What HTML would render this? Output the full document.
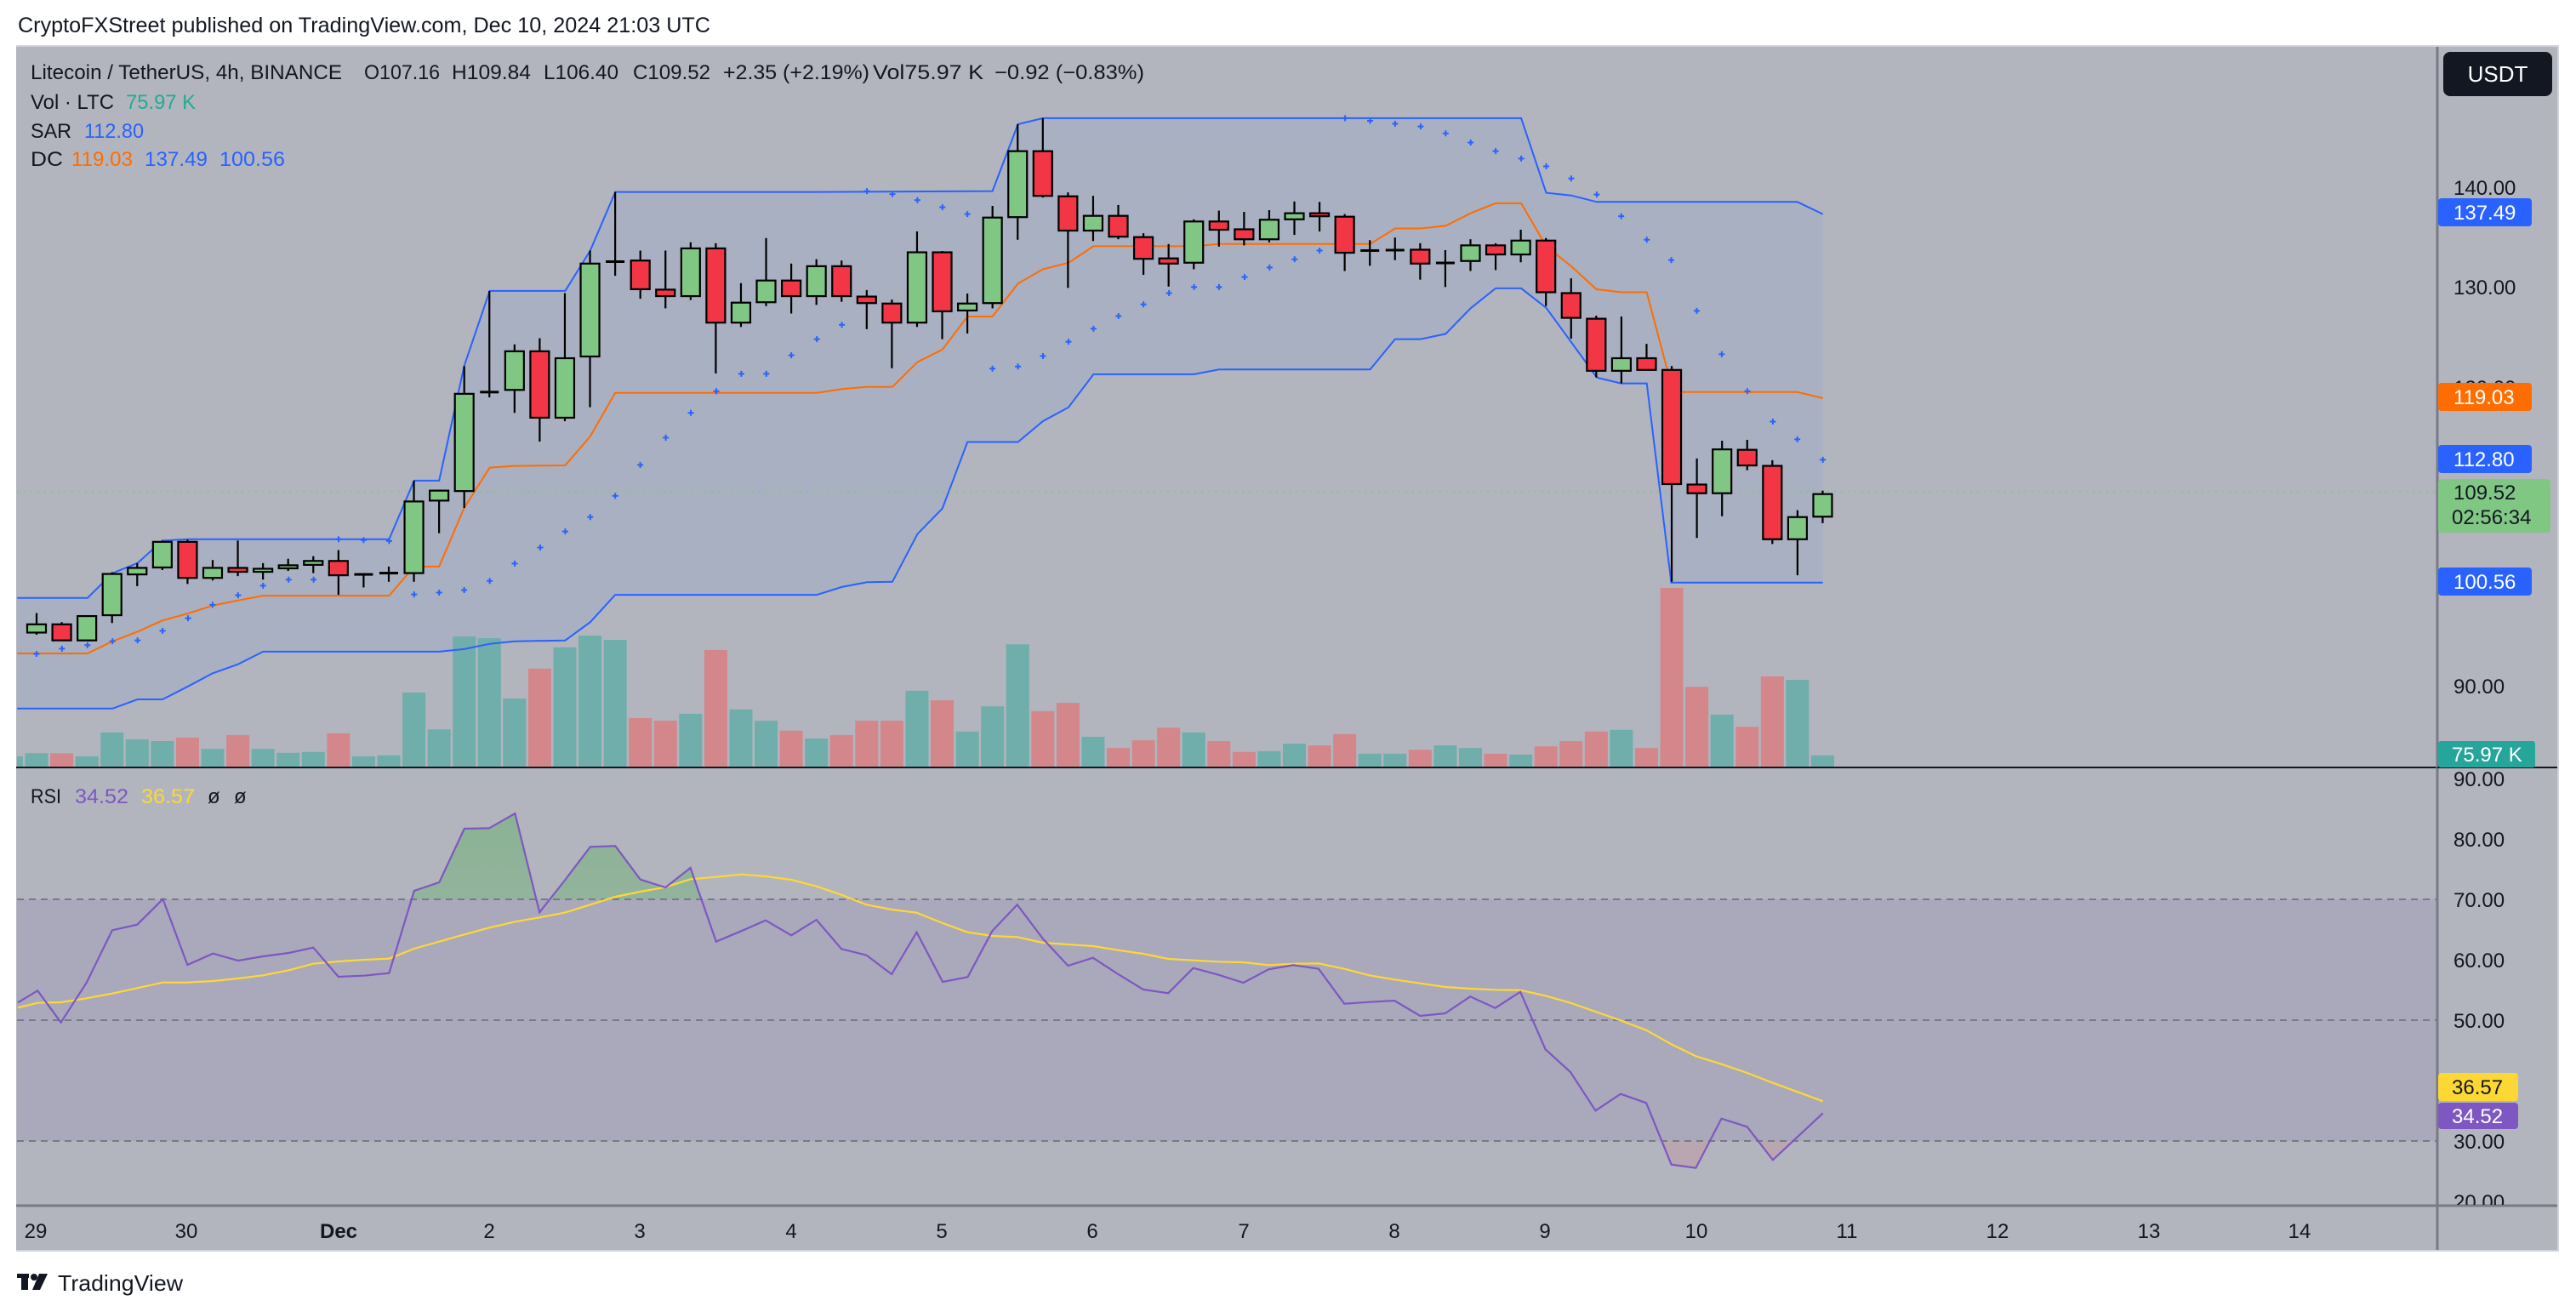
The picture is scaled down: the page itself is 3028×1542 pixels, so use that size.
<!DOCTYPE html>
<html><head><meta charset="utf-8">
<style>
html,body{margin:0;padding:0;background:#fff;}
svg{display:block;font-family:"Liberation Sans",sans-serif;}
</style></head>
<body>
<svg id="s" width="3028" height="1542" viewBox="0 0 3028 1542" xmlns="http://www.w3.org/2000/svg">
<rect x="0" y="0" width="3028" height="1542" fill="#ffffff"/>
<rect x="19" y="53" width="2989" height="1418" fill="#b2b5be"/>
<defs>
<clipPath id="pc"><rect x="20" y="54" width="2845" height="848"/></clipPath>
<clipPath id="rc"><rect x="20" y="904" width="2845" height="513"/></clipPath>
<clipPath id="ob"><rect x="20" y="904" width="2845" height="153"/></clipPath>
<clipPath id="os"><rect x="20" y="1341" width="2845" height="76"/></clipPath>
<linearGradient id="gg" x1="0" y1="0" x2="0" y2="1"><stop offset="0" stop-color="#4caf50" stop-opacity="0.4"/><stop offset="1" stop-color="#4caf50" stop-opacity="0"/></linearGradient>
<linearGradient id="rg" x1="0" y1="0" x2="0" y2="1"><stop offset="0" stop-color="#f23645" stop-opacity="0"/><stop offset="1" stop-color="#f23645" stop-opacity="0.12"/></linearGradient>
</defs>
<rect x="20" y="1057" width="2845" height="284" fill="#a9a9bb"/>
<g id="price" clip-path="url(#pc)"></g>
<g id="rsi" clip-path="url(#rc)"></g>
<line x1="19" y1="902" x2="2865" y2="902" stroke="#131722" stroke-width="2"/>
<line x1="2865" y1="53" x2="2865" y2="1471" stroke="#787b86" stroke-width="3"/>
<line x1="19" y1="1417" x2="3008" y2="1417" stroke="#787b86" stroke-width="3"/>
<line x1="2865" y1="902" x2="3008" y2="902" stroke="#131722" stroke-width="2"/>
<line x1="3007" y1="53" x2="3007" y2="1471" stroke="#d1d4dc" stroke-width="2"/>
<line x1="19" y1="1470" x2="3008" y2="1470" stroke="#d1d4dc" stroke-width="2"/>
<line x1="19" y1="54" x2="3008" y2="54" stroke="#d1d4dc" stroke-width="2"/>

<text x="21" y="38" font-size="25" fill="#131722" textLength="814" lengthAdjust="spacingAndGlyphs">CryptoFXStreet published on TradingView.com, Dec 10, 2024 21:03 UTC</text>

<g font-size="24" fill="#131722">
<text x="36" y="93" textLength="366" lengthAdjust="spacingAndGlyphs">Litecoin / TetherUS, 4h, BINANCE</text>
<text x="428" y="93" textLength="89" lengthAdjust="spacingAndGlyphs">O107.16</text>
<text x="531" y="93" textLength="93" lengthAdjust="spacingAndGlyphs">H109.84</text>
<text x="639" y="93" textLength="88" lengthAdjust="spacingAndGlyphs">L106.40</text>
<text x="744" y="93" textLength="91" lengthAdjust="spacingAndGlyphs">C109.52</text>
<text x="850" y="93" textLength="172" lengthAdjust="spacingAndGlyphs">+2.35 (+2.19%)</text>
<text x="1026" y="93" textLength="130" lengthAdjust="spacingAndGlyphs">Vol75.97 K</text>
<text x="1169" y="93" textLength="176" lengthAdjust="spacingAndGlyphs">−0.92 (−0.83%)</text>
<text x="36" y="128" textLength="98" lengthAdjust="spacingAndGlyphs">Vol · LTC</text>
<text x="148" y="128" fill="#22ab94" textLength="82" lengthAdjust="spacingAndGlyphs">75.97 K</text>
<text x="36" y="162" textLength="48" lengthAdjust="spacingAndGlyphs">SAR</text>
<text x="99" y="162" fill="#2962ff" textLength="70" lengthAdjust="spacingAndGlyphs">112.80</text>
<text x="36" y="195" textLength="38" lengthAdjust="spacingAndGlyphs">DC</text>
<text x="84" y="195" fill="#ff6d00" textLength="72" lengthAdjust="spacingAndGlyphs">119.03</text>
<text x="170" y="195" fill="#2962ff" textLength="74" lengthAdjust="spacingAndGlyphs">137.49</text>
<text x="258" y="195" fill="#2962ff" textLength="77" lengthAdjust="spacingAndGlyphs">100.56</text>
<text x="36" y="944" textLength="36" lengthAdjust="spacingAndGlyphs">RSI</text>
<text x="88" y="944" fill="#7e57c2" textLength="63" lengthAdjust="spacingAndGlyphs">34.52</text>
<text x="166" y="944" fill="#fdd835" textLength="63" lengthAdjust="spacingAndGlyphs">36.57</text>
<text x="244" y="944">ø</text>
<text x="275" y="944">ø</text>
</g>

<g font-size="24" fill="#131722">
<text x="2884" y="229">140.00</text>
<text x="2884" y="346">130.00</text>
<text x="2884" y="464">120.00</text>
<text x="2884" y="815">90.00</text>
<text x="2884" y="924">90.00</text>
<text x="2884" y="995">80.00</text>
<text x="2884" y="1066">70.00</text>
<text x="2884" y="1137">60.00</text>
<text x="2884" y="1208">50.00</text>
<text x="2884" y="1350">30.00</text>
</g>
<g clip-path="url(#rtop)"><text x="2884" y="1421" font-size="24" fill="#131722">20.00</text></g>
<defs><clipPath id="rtop"><rect x="2867" y="1380" width="140" height="36"/></clipPath></defs>
<g font-size="24">
<rect x="2866" y="233" width="110" height="33" rx="4" fill="#2962ff"/><text x="2884" y="258" fill="#fff">137.49</text>
<rect x="2866" y="450" width="110" height="33" rx="4" fill="#ff6d00"/><text x="2884" y="475" fill="#fff">119.03</text>
<rect x="2866" y="523" width="110" height="33" rx="4" fill="#2962ff"/><text x="2884" y="548" fill="#fff">112.80</text>
<rect x="2866" y="563" width="132" height="63" rx="4" fill="#81c784"/><text x="2884" y="587" fill="#131722">109.52</text><text x="2882" y="616" fill="#131722">02:56:34</text>
<rect x="2866" y="667" width="110" height="33" rx="4" fill="#2962ff"/><text x="2884" y="692" fill="#fff">100.56</text>
<rect x="2866" y="871" width="114" height="31" rx="3" fill="#26a69a"/><text x="2882" y="895" fill="#fff">75.97 K</text>
<rect x="2866" y="1261" width="94" height="33" rx="4" fill="#fdd835"/><text x="2882" y="1286" fill="#131722">36.57</text>
<rect x="2866" y="1296" width="94" height="31" rx="4" fill="#7e57c2"/><text x="2882" y="1320" fill="#fff">34.52</text>
</g>
<rect x="2872" y="61" width="128" height="52" rx="8" fill="#131722"/>
<text x="2936" y="96" font-size="26" fill="#fff" text-anchor="middle">USDT</text>

<g font-size="24" fill="#131722" text-anchor="middle">
<text x="42" y="1455">29</text><text x="219" y="1455">30</text>
<text x="398" y="1455" font-weight="bold">Dec</text>
<text x="575" y="1455">2</text><text x="752" y="1455">3</text><text x="930" y="1455">4</text>
<text x="1107" y="1455">5</text><text x="1284" y="1455">6</text><text x="1462" y="1455">7</text>
<text x="1639" y="1455">8</text><text x="1816" y="1455">9</text><text x="1994" y="1455">10</text>
<text x="2171" y="1455">11</text><text x="2348" y="1455">12</text><text x="2526" y="1455">13</text>
<text x="2703" y="1455">14</text>
</g>
<g fill="#131722">
<rect x="20" y="1497" width="14" height="5"/><rect x="25" y="1497" width="8" height="19"/>
<circle cx="40" cy="1501" r="4"/>
<polygon points="46,1497 56,1497 47,1516 38,1516"/>
<text x="68" y="1517" font-size="26" textLength="147" lengthAdjust="spacingAndGlyphs">TradingView</text>
</g>
</svg>
<script>
const NS="http://www.w3.org/2000/svg";
function el(p,t,a){const e=document.createElementNS(NS,t);for(const k in a)e.setAttribute(k,a[k]);p.appendChild(e);return e;}
const P=document.getElementById('price'),R=document.getElementById('rsi');
const X=i=>43+i*29.57, Y=z=>120+z/1.96;
function pts(arr,ox,fx,fy){return arr.map(p=>[ox+p[0]/fx,fy(p[1])]);}
const Z=(arr,ox)=>pts(arr,ox,1.633,Y);
const up=[].concat(Z([[33,1142],[168,1142],[216,1085],[264,1062],[312,1010],[361,1007],[747,1007],[795,872],[843,872],[891,608],[940,435],[1085,435],[1133,342],[1181,207],[1568,207]],0),
 Z([[370,205],[419,51],[467,37],[1385,37],[1433,209],[1481,215],[1530,230]],940),Z([[0,230],[380,230],[429,258]],1880));
const lo=[].concat(Z([[33,1397],[216,1397],[264,1376],[312,1376],[361,1346],[408,1316],[457,1295],[505,1266],[843,1266],[891,1260],[940,1248],[988,1242],[1085,1240],[1133,1198],[1181,1135],[1568,1135]],0),
 Z([[33,1135],[81,1117],[129,1106],[178,1105],[226,995],[274,936],[322,783],[419,783],[467,735],[516,703],[564,627],[757,627],[805,616],[1095,616],[1143,546],[1192,546],[1240,534],[1288,475],[1336,429],[1385,429],[1433,474],[1481,553],[1530,634]],940),
 Z([[0,636],[42,648],[91,648],[138,1107],[429,1107]],1880));
const mid=[].concat(Z([[33,1270],[168,1270],[216,1242],[264,1220],[312,1194],[361,1178],[408,1160],[457,1148],[505,1137],[747,1137],[795,1070],[843,1070],[891,935],[940,842],[988,838],[1085,837],[1133,770],[1181,670],[1568,670]],0),
 Z([[33,670],[81,661],[129,656],[178,656],[226,599],[274,570],[322,494],[370,494],[419,418],[467,385],[516,370],[564,332],[757,332],[805,327],[1095,327],[1143,291],[1192,291],[1240,285],[1288,256],[1336,233],[1385,233],[1433,332],[1481,378],[1530,432]],940),
 Z([[0,432],[42,438],[91,438],[130,615],[157,668],[380,668],[429,682]],1880));
const S=a=>a.map(p=>p[0].toFixed(1)+','+p[1].toFixed(1)).join(' ');
el(P,'polygon',{points:S(up.concat(lo.slice().reverse())),fill:'#2962ff','fill-opacity':'0.06'});
const V=[[-1,1507,'g'],[0,1500,'g'],[1,1500,'r'],[2,1507,'g'],[3,1452,'g'],[4,1468,'g'],[5,1472,'g'],[6,1464,'r'],[7,1490,'g'],[8,1458,'r'],[9,1490,'g'],[10,1499,'g'],[11,1497,'g'],[12,1454,'r'],[13,1507,'g'],[14,1505,'g'],[15,1360,'g'],[16,1445,'g'],[17,1231,'g'],[18,1235,'g'],[19,1374,'g'],[20,1305,'r'],[21,1256,'g'],[22,1229,'g'],[23,1239,'g'],[24,1419,'r'],[25,1425,'r'],[26,1409,'g'],[27,1262,'r'],[28,1399,'g'],[29,1425,'g'],[30,1448,'r'],[31,1466,'g'],[32,1458,'r'],[33,1425,'r'],[34,1425,'r'],[35,1356,'g'],[36,1378,'r'],[37,1450,'g'],[38,1392,'g'],[39,1249,'g'],[40,1403,'r'],[41,1384,'r'],[42,1462,'g'],[43,1488,'r'],[44,1470,'r'],[45,1441,'r'],[46,1452,'g'],[47,1472,'r'],[48,1497,'r'],[49,1495,'g'],[50,1478,'g'],[51,1482,'r'],[52,1456,'r'],[53,1501,'g'],[54,1501,'g'],[55,1492,'r'],[56,1482,'g'],[57,1488,'g'],[58,1501,'r'],[59,1503,'g'],[60,1484,'r'],[61,1472,'r'],[62,1450,'r'],[63,1446,'g'],[64,1488,'r'],[65,1119,'r'],[66,1347,'r'],[67,1411,'g'],[68,1439,'r'],[69,1323,'r'],[70,1331,'g'],[71,1505,'g']];
V.forEach(v=>{const y=Y(v[1]);el(P,'rect',{x:X(v[0])-13.5,y:y,width:27,height:902-y,fill:v[2]=='g'?'#6faeab':'#d3878a'});});
el(P,'polyline',{points:S(up),fill:'none',stroke:'#2962ff','stroke-width':2});
el(P,'polyline',{points:S(lo),fill:'none',stroke:'#2962ff','stroke-width':2});
el(P,'polyline',{points:S(mid),fill:'none',stroke:'#ff6d00','stroke-width':2});
el(P,'line',{x1:20,y1:577.5,x2:2865,y2:577.5,stroke:'#81c784','stroke-width':2,'stroke-dasharray':'2 6'});
const sar=[].concat(Z([[70,1271],[119,1259],[168,1251],[216,1242],[264,1240],[312,1218],[361,1189],[408,1158],[457,1136],[505,1114],[554,1100],[602,1100],[650,1007],[698,1009],[747,1011],[795,1134],[843,1130],[891,1124],[940,1103],[988,1063],[1037,1026],[1085,989],[1133,956],[1181,907],[1229,836],[1278,773],[1326,716],[1375,666],[1423,626],[1471,626],[1519,583]],0),
 Z([[33,546],[81,513],[129,205],[178,212],[226,226],[274,242],[322,258],[370,614],[419,609],[467,585],[516,552],[564,522],[612,493],[660,466],[709,440],[757,426],[805,426],[854,403],[902,381],[950,362],[998,342],[1047,37],[1095,43],[1143,50],[1192,56],[1240,72],[1288,93],[1336,113],[1385,130],[1433,148],[1481,176],[1530,213]],940),
 Z([[42,263],[91,317],[138,364],[187,481],[235,581],[284,666],[333,736],[380,777],[429,824]],1880));
sar.forEach(p=>{el(P,'path',{d:`M${p[0]-3.5},${p[1]}h7M${p[0]},${p[1]-3.5}v7`,stroke:'#2962ff','stroke-width':2});});
const C=[['g',1203,1222,1177,1227],['r',1203,1240,1198,1240],['g',1184,1240,1184,1240],['g',1087,1182,1083,1200],['g',1073,1088,1062,1115],['g',1013,1072,1010,1078],['r',1013,1096,1008,1110],['g',1073,1096,1055,1102],['r',1073,1082,1010,1092],['g',1075,1082,1062,1100],['g',1067,1074,1052,1080],['g',1057,1066,1046,1085],['r',1057,1090,1032,1135],['d',1088,1088,1085,1118],['d',1085,1085,1070,1105],['g',920,1085,872,1105],['g',895,918,893,993],['g',672,896,608,935],['d',666,670,435,680],['g',574,663,558,716],['r',574,727,544,782],['g',590,727,440,735],['g',372,586,342,703],['d',365,370,207,400],['r',365,431,342,453],['r',432,447,342,475],['g',337,447,323,456],['r',337,508,325,625],['g',462,508,417,518],['g',411,461,313,470],['r',411,447,372,487],['g',378,447,362,467],['r',378,447,365,460],['r',448,463,433,523],['r',464,508,455,613],['g',346,508,298,518],['r',346,482,343,546],['g',464,480,441,533],['g',266,463,239,475],['g',113,265,51,317],['r',113,216,37,220],['r',217,296,208,428],['g',262,296,216,320],['r',262,310,237,316],['r',311,361,302,398],['r',360,372,327,425],['g',275,370,270,385],['r',275,294,250,333],['r',293,316,253,330],['g',271,316,249,323],['g',256,270,229,306],['r',256,263,230,298],['r',264,347,258,389],['d',342,342,318,377],['d',338,344,312,364],['r',340,372,325,409],['d',369,372,341,426],['g',330,366,316,389],['r',330,351,325,387],['g',319,351,294,369],['r',319,438,313,470],['r',440,497,406,545],['r',499,619,492,634],['g',590,619,494,648],['r',590,617,557,617],['r',617,880,608,1105],['r',881,901,821,1004],['g',800,901,780,954],['r',801,837,778,848],['r',838,1007,825,1018],['g',956,1007,940,1090],['g',903,955,895,970]];
C.forEach((c,i)=>{const x=X(i);
 el(P,'line',{x1:x,y1:Y(c[3]),x2:x,y2:Y(c[4]),stroke:'#000','stroke-width':2.2});
 if(c[0]=='d'){const y=Y((c[1]+c[2])/2);el(P,'rect',{x:x-11,y:y-1.5,width:22,height:3,fill:'#000'});}
 else{const t=Y(c[1]),b=Y(c[2]);el(P,'rect',{x:x-11,y:t,width:22,height:Math.max(b-t,2),fill:c[0]=='g'?'#81c784':'#f23645',stroke:'#000','stroke-width':2.2});}
});
const RY=z=>900+z/3, RZ=(a,ox)=>pts(a,ox,1.4255,RY);
const rsi=[].concat(RZ([[30,835],[63,793],[102,905],[145,765],[188,580],[230,560],[273,470],[314,702],[357,662],[399,687],[441,672],[484,660],[525,641],[567,744],[610,740],[652,731],[694,441],[736,411],[778,222],[820,220],[863,168],[904,517],[946,405],[989,286],[1031,283],[1073,401],[1115,429],[1157,360],[1200,620],[1242,583],[1283,545],[1326,598],[1368,543],[1410,646],[1452,668],[1494,735],[1536,587]],0),
 RZ([[40,762],[82,745],[123,583],[165,490],[208,610],[250,705],[292,677],[334,735],[376,789],[418,802],[460,713],[502,737],[544,765],[586,718],[628,703],[670,716],[713,839],[755,833],[797,828],[840,882],[882,873],[924,814],[966,854],[1008,797],[1050,1000],[1092,1080],[1134,1216],[1176,1157],[1219,1189],[1261,1406],[1302,1418],[1345,1244],[1388,1273],[1431,1390],[1515,1225]],1080));
const ma=[].concat(RZ([[30,853],[63,836],[102,834],[145,820],[188,803],[230,784],[273,764],[314,764],[357,759],[399,750],[441,739],[484,721],[525,698],[567,690],[610,684],[652,680],[694,645],[736,620],[778,595],[820,571],[863,550],[904,535],[946,518],[989,490],[1031,462],[1073,444],[1115,428],[1157,400],[1200,392],[1242,383],[1283,390],[1326,402],[1368,425],[1410,455],[1452,490],[1494,507],[1536,518]],0),
 RZ([[40,555],[82,587],[123,600],[165,604],[208,624],[250,630],[292,636],[334,650],[376,663],[418,681],[460,686],[502,691],[544,693],[586,703],[628,698],[670,697],[713,716],[755,739],[797,754],[840,767],[882,780],[924,786],[966,790],[1008,791],[1050,811],[1092,836],[1134,867],[1176,898],[1219,932],[1261,982],[1302,1024],[1345,1052],[1388,1083],[1431,1118],[1515,1183]],1080));
const f=rsi[0][0],l=rsi[rsi.length-1][0];
const gOb=el(R,'g',{'clip-path':'url(#ob)'});
el(gOb,'polygon',{points:S(rsi)+` ${l},1057 ${f},1057`,fill:'url(#gg)'});
const gOs=el(R,'g',{'clip-path':'url(#os)'});
el(gOs,'polygon',{points:S(rsi)+` ${l},1341 ${f},1341`,fill:'url(#rg)'});
[1057,1199,1341].forEach(y=>el(R,'line',{x1:20,y1:y,x2:2865,y2:y,stroke:'#787b86','stroke-width':2,'stroke-dasharray':'8 6'}));
el(R,'polyline',{points:S(ma),fill:'none',stroke:'#fdd835','stroke-width':2.2});
el(R,'polyline',{points:S(rsi),fill:'none',stroke:'#7e57c2','stroke-width':2.2});
</script>
</body></html>
